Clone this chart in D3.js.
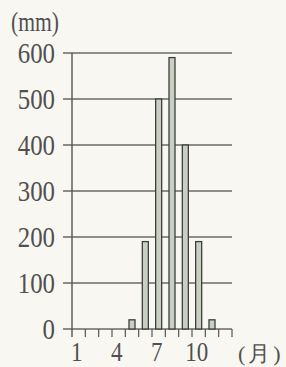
<!DOCTYPE html>
<html>
<head>
<meta charset="utf-8">
<script src="https://cdn.jsdelivr.net/npm/d3@7"></script>
<style>
    body { margin: 0; background: #f8f7f2; }
    svg { display: block; }
    text { font-family: "Liberation Serif", "DejaVu Serif", serif; fill: #505050; }
</style>
</head>
<body>
<div id="chart"></div>
<script>
// monthly precipitation (mm)
var months = [1, 2, 3, 4, 5, 6, 7, 8, 9, 10, 11, 12];
var rainfall = [0, 0, 0, 0, 20, 190, 500, 590, 400, 190, 20, 0];
var yTicks = [0, 100, 200, 300, 400, 500, 600];
var xLabels = [1, 4, 7, 10];

var width = 286, height = 367;
var plotLeft = 72, plotRight = 232, plotTop = 53, plotBottom = 329;

var svg = d3.select("#chart")
    .append("svg")
    .attr("width", width)
    .attr("height", height);

var x = d3.scaleBand().domain(months).range([plotLeft, plotRight]).paddingInner(0.55).paddingOuter(0.275);
var xStep = d3.scaleLinear().domain([0, 12]).range([plotLeft, plotRight]);
var y = d3.scaleLinear().domain([0, 600]).range([plotBottom, plotTop]);

// horizontal grid lines
svg.selectAll(".grid")
    .data(yTicks)
    .enter().append("line")
    .attr("x1", plotLeft - 9)
    .attr("x2", plotRight)
    .attr("y1", function (d) { return y(d); })
    .attr("y2", function (d) { return y(d); })
    .attr("stroke", "#6a6a6a")
    .attr("stroke-width", 1.4);

// y axis line
svg.append("line")
    .attr("x1", plotLeft).attr("x2", plotLeft)
    .attr("y1", y(600)).attr("y2", plotBottom + 8)
    .attr("stroke", "#555")
    .attr("stroke-width", 1.4);

// month boundary ticks
svg.selectAll(".tick")
    .data(d3.range(1, 13))
    .enter().append("line")
    .attr("x1", function (d) { return xStep(d); })
    .attr("x2", function (d) { return xStep(d); })
    .attr("y1", plotBottom)
    .attr("y2", plotBottom + 8)
    .attr("stroke", "#555")
    .attr("stroke-width", 1.2);

// y labels (tall, slightly condensed)
svg.selectAll(".ylab")
    .data(yTicks)
    .enter().append("text")
    .attr("transform", function (d) { return "translate(55," + (y(d) + 10) + ") scale(0.92,1.12)"; })
    .attr("text-anchor", "end")
    .attr("font-size", 27)
    .text(function (d) { return d; });

// x labels
svg.selectAll(".xlab")
    .data(xLabels)
    .enter().append("text")
    .attr("transform", function (d) { return "translate(" + (x(d) + x.bandwidth() / 2 - 2) + ",361) scale(0.92,1.08)"; })
    .attr("text-anchor", "middle")
    .attr("font-size", 25)
    .text(function (d) { return d; });

// bars
svg.selectAll(".bar")
    .data(months.filter(function (m, i) { return rainfall[i] > 0; }))
    .enter().append("rect")
    .attr("x", function (d) { return x(d); })
    .attr("y", function (d) { return y(rainfall[d - 1]); })
    .attr("width", x.bandwidth())
    .attr("height", function (d) { return plotBottom - y(rainfall[d - 1]); })
    .attr("fill", "#c9d0c3")
    .attr("stroke", "#3c3f3a")
    .attr("stroke-width", 1.3);

// unit labels
svg.append("text")
    .attr("transform", "translate(11,31) scale(0.9,1.15)")
    .attr("font-size", 24)
    .text("(mm)");

svg.append("text")
    .attr("x", 238)
    .attr("y", 361)
    .attr("font-size", 22)
    .attr("letter-spacing", 3)
    .text("(月)");
</script>
</body>
</html>
